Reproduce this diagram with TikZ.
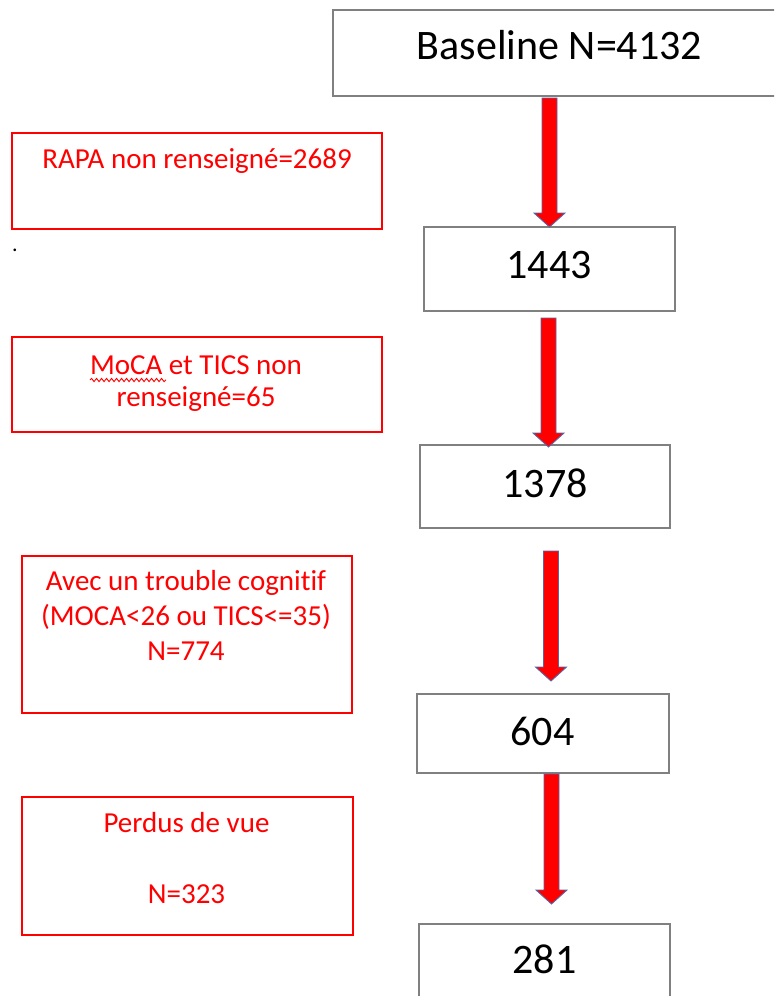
\documentclass[tikz,border=0pt]{standalone}
\usepackage{fontspec}
\setmainfont{Carlito}[Ligatures=NoCommon]
\usetikzlibrary{calc,decorations.pathmorphing}
\definecolor{boxgray}{RGB}{128,128,128}
\definecolor{arrowblue}{RGB}{84,104,168}
\definecolor{myred}{RGB}{255,0,0}
\tikzset{
  blackbox/.style={draw=boxgray, line width=1.4pt, rectangle, inner sep=0pt},
  redbox/.style={draw=myred, line width=1.4pt, rectangle, inner sep=0pt},
  blacktext/.style={anchor=base, inner sep=0pt, text=black, font=\fontsize{42}{50}\selectfont},
  redtext/.style={anchor=base, inner sep=0pt, text=myred, font=\fontsize{29}{35}\selectfont},
  blockarrow/.style={fill=myred, draw=arrowblue, line width=0.9pt, line join=miter}
}
\newcommand\blockarr[2]{%
  \draw[blockarrow] ($(#1)+(-7.5,0)$) -- ($(#1)+(7.5,0)$) -- ($(#2)+(7.5,-14)$)
    -- ($(#2)+(15.5,-14)$) -- (#2) -- ($(#2)+(-15.5,-14)$) -- ($(#2)+(-7.5,-14)$) -- cycle;}
\begin{document}
\begin{tikzpicture}[x=1pt,y=-1pt]
\useasboundingbox (0,0) rectangle (774,996);
\clip (0,0) rectangle (774,996);
% black boxes
\node[blackbox, minimum width=480pt, minimum height=86pt] (b0) at (573,53) {};
\node[blackbox, minimum width=251pt, minimum height=84pt] (b1) at (549.5,269) {};
\node[blackbox, minimum width=250pt, minimum height=83pt] (b2) at (545,486.5) {};
\node[blackbox, minimum width=252pt, minimum height=79pt] (b3) at (543,733.5) {};
\node[blackbox, minimum width=251pt, minimum height=86pt] (b4) at (544.5,967) {};
\node[blacktext] (t0) at (559.5,59) {Baseline N=4132};
\node[blacktext] (t1) at (549,278) {1443};
\node[blacktext] (t2) at (545,497) {1378};
\node[blacktext] (t3) at (542.5,745) {604};
\node[blacktext] (t4) at (544.5,973) {281};
% red boxes
\node[redbox, minimum width=370pt, minimum height=96pt] (r1) at (197,181) {};
\node[redbox, minimum width=370pt, minimum height=95pt] (r2) at (197,384.5) {};
\node[redbox, minimum width=330pt, minimum height=157pt] (r3) at (187,634.5) {};
\node[redbox, minimum width=331pt, minimum height=138pt] (r4) at (187.5,866) {};
\node[redtext] (s1) at (197,168) {RAPA non renseigné=2689};
\node[redtext] (s2a) at (196,374) {MoCA et TICS non};
\node[redtext] (s2b) at (196,406) {renseigné=65};
\node[redtext] (s3a) at (186,590) {Avec un trouble cognitif};
\node[redtext] (s3b) at (186,625) {(MOCA<26 ou TICS<=35)};
\node[redtext] (s3c) at (186,660) {N=774};
\node[redtext] (s4a) at (186.5,832) {Perdus de vue};
\node[redtext] (s4b) at (186.5,903) {N=323};
% spell-check squiggle under MoCA
\draw[myred, line width=0.9pt, decorate, decoration={snake, segment length=5pt, amplitude=1.6pt}] (90,380) -- (166,380);
% stray dot
\node[inner sep=0pt, anchor=base, font=\fontsize{22}{24}\selectfont] (dot) at (15,251) {.};
% arrows
\coordinate (a1s) at (549.5,98);  \coordinate (a1e) at (549.5,227);
\coordinate (a2s) at (548.5,318); \coordinate (a2e) at (548.5,447);
\coordinate (a3s) at (551,551);   \coordinate (a3e) at (551,681);
\coordinate (a4s) at (551.5,774); \coordinate (a4e) at (551.5,904);
\blockarr{a1s}{a1e}
\blockarr{a2s}{a2e}
\blockarr{a3s}{a3e}
\blockarr{a4s}{a4e}
\end{tikzpicture}
\end{document}
